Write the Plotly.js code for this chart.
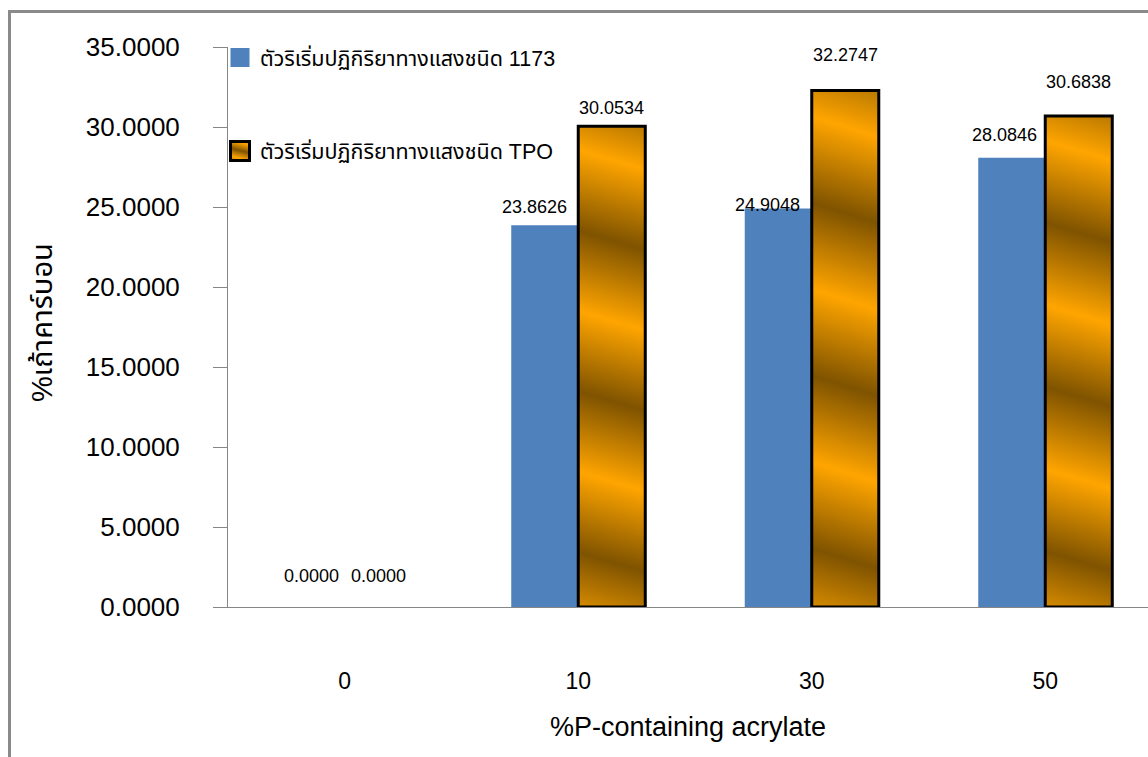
<!DOCTYPE html>
<html>
<head>
<meta charset="utf-8">
<script src="https://cdn.plot.ly/plotly-3.0.1.min.js"></script>
<style>
  html, body { margin: 0; padding: 0; background: #ffffff; }
  #chart { width: 1148px; height: 757px; }
</style>
</head>
<body>
<div id="chart"></div>
<script>
// ---- data ----
const categories = ['0', '10', '30', '50'];
const series1173 = [0.0000, 23.8626, 24.9048, 28.0846];
const seriesTPO = [0.0000, 30.0534, 32.2747, 30.6838];
const seriesNames = ['ตัวริเริ่มปฏิกิริยาทางแสงชนิด 1173', 'ตัวริเริ่มปฏิกิริยาทางแสงชนิด TPO'];
const xTitle = '%P-containing acrylate';
const yTitle = '%เถ้าคาร์บอน';

// label offsets (px) relative to each bar top: [dx, dy]
const labelShift1173 = [[0, 31], [-10, 18], [-11, 4], [-7, 23]];
const labelShiftTPO = [[0, 31], [0, 18], [0, 36], [0, 34]];

// ---- style ----
const FONT = "'Liberation Sans', Arial, 'Noto Sans Thai', Tahoma, 'DejaVu Sans', sans-serif";
const BLUE = '#4F81BD';
const ORANGE = '#FFA500';
const AXIS = '#868686';
const bargap = 0.426;
const margin = {l: 228, r: 0, t: 47, b: 150, autoexpand: false};
const W = 1148, H = 757;
const xRange = [-0.5, 3.44];
const plotW = W - margin.l - margin.r;
const plotH = H - margin.t - margin.b;

const pxPerCat = plotW / (xRange[1] - xRange[0]);
const barPx = pxPerCat * (1 - bargap) / 2;
const tpoOutline = seriesTPO.map(v => (v > 0 ? 3 : 0));

const traces = [
  {
    type: 'bar', name: seriesNames[0], x: categories, y: series1173,
    marker: {color: BLUE, line: {width: 0}},
    legend: 'legend', hoverinfo: 'none'
  },
  {
    type: 'bar', name: seriesNames[1], x: categories, y: seriesTPO,
    marker: {color: ORANGE, line: {width: tpoOutline, color: '#000000'}},
    legend: 'legend2', hoverinfo: 'none'
  }
];

const annotations = [];
categories.forEach((c, i) => {
  annotations.push({
    x: i, y: series1173[i], xref: 'x', yref: 'y', showarrow: false,
    text: series1173[i].toFixed(4), xanchor: 'center', yanchor: 'middle',
    xshift: -barPx / 2 + labelShift1173[i][0], yshift: labelShift1173[i][1],
    font: {family: FONT, size: 18, color: '#000'}
  });
  annotations.push({
    x: i, y: seriesTPO[i], xref: 'x', yref: 'y', showarrow: false,
    text: seriesTPO[i].toFixed(4), xanchor: 'center', yanchor: 'middle',
    xshift: barPx / 2 + labelShiftTPO[i][0], yshift: labelShiftTPO[i][1],
    font: {family: FONT, size: 18, color: '#000'}
  });
});
// y axis title as rotated annotation
annotations.push({
  xref: 'paper', yref: 'paper', x: (42 - margin.l) / plotW, y: (H - margin.b - 323) / plotH,
  xanchor: 'center', yanchor: 'middle', showarrow: false, textangle: -90,
  text: yTitle, font: {family: FONT, size: 29, color: '#000'}
});

const legendCommon = {
  xref: 'paper', yref: 'paper', xanchor: 'left', yanchor: 'middle',
  bgcolor: 'rgba(0,0,0,0)', borderwidth: 0,
  font: {family: FONT, size: 21.5, color: '#000'}, itemclick: false, itemdoubleclick: false
};

const layout = {
  width: W, height: H, margin: margin,
  paper_bgcolor: '#ffffff', plot_bgcolor: '#ffffff',
  font: {family: FONT, color: '#000'},
  barmode: 'group', bargap: bargap, bargroupgap: 0,
  showlegend: true,
  legend: Object.assign({}, legendCommon, {x: (220 - margin.l) / plotW, y: (H - margin.b - 57.5) / plotH}),
  legend2: Object.assign({}, legendCommon, {x: (220 - margin.l) / plotW, y: (H - margin.b - 151) / plotH}),
  xaxis: {
    type: 'category', range: xRange, showgrid: false, zeroline: false,
    showline: true, linecolor: AXIS, linewidth: 1, ticks: '',
    tickfont: {family: FONT, size: 23, color: '#000'}, ticklabelstandoff: 53,
    title: {text: xTitle, font: {family: FONT, size: 27, color: '#000'}, standoff: 24},
    fixedrange: true, automargin: false
  },
  yaxis: {
    range: [0, 35], dtick: 5, tick0: 0, tickformat: '.4f',
    showgrid: false, zeroline: false, showline: true, linecolor: AXIS, linewidth: 1,
    ticks: 'outside', ticklen: 14, tickcolor: AXIS, tickwidth: 1,
    tickfont: {family: FONT, size: 26, color: '#000'}, ticklabelstandoff: 28,
    fixedrange: true, automargin: false
  },
  annotations: annotations,
  shapes: [{
    type: 'rect', xref: 'paper', yref: 'paper', layer: 'above',
    x0: (9.5 - margin.l) / plotW, x1: 1.2,
    y0: -0.5, y1: (H - margin.b - 11.5) / plotH,
    line: {color: '#8a8a8a', width: 3}, fillcolor: 'rgba(0,0,0,0)'
  }]
};

function decorate(gd) {
  const svg = gd.querySelector('svg.main-svg');
  if (!svg) return;
  const NS = 'http://www.w3.org/2000/svg';
  let defs = svg.querySelector('defs');
  if (!defs) { defs = document.createElementNS(NS, 'defs'); svg.insertBefore(defs, svg.firstChild); }
  if (!svg.querySelector('#goldgrad')) {
    const lg = document.createElementNS(NS, 'linearGradient');
    lg.setAttribute('id', 'goldgrad');
    lg.setAttribute('x1', '0.5'); lg.setAttribute('y1', '0.07');
    lg.setAttribute('x2', '0.4933'); lg.setAttribute('y2', '0.237');
    lg.setAttribute('spreadMethod', 'reflect');
    [['0', '#FFA500'], ['1', '#7F5300']].forEach(([o, c]) => {
      const s = document.createElementNS(NS, 'stop');
      s.setAttribute('offset', o); s.setAttribute('stop-color', c);
      lg.appendChild(s);
    });
    defs.appendChild(lg);
    const lg2 = lg.cloneNode(true);
    lg2.setAttribute('id', 'goldgradsmall');
    lg2.setAttribute('x1', '0.3'); lg2.setAttribute('y1', '0.0');
    lg2.setAttribute('x2', '0.2'); lg2.setAttribute('y2', '0.4');
    defs.appendChild(lg2);
  }
  gd.querySelectorAll('.trace.bars path').forEach(p => {
    const f = p.style.fill;
    if (f === 'rgb(255, 165, 0)' || f === '#ffa500' || f === 'url(#goldgrad)') {
      p.style.fill = 'url(#goldgrad)';
    }
  });
  gd.querySelectorAll('.legendpoints path').forEach(p => {
    p.setAttribute('d', 'M9.5,9.5H-9.5V-9.5H9.5Z');
    const f = p.style.fill;
    if (f === 'rgb(255, 165, 0)' || f === '#ffa500' || f === 'url(#goldgradsmall)') {
      p.style.fill = 'url(#goldgradsmall)';
      p.style.stroke = '#000000';
      p.style.strokeWidth = '3px';
      p.style.strokeOpacity = '1';
    }
  });
}

const gd = document.getElementById('chart');
Plotly.newPlot(gd, traces, layout, {staticPlot: true, displayModeBar: false}).then(() => {
  decorate(gd);
  gd.on && gd.on('plotly_afterplot', () => decorate(gd));
});
</script>
</body>
</html>
